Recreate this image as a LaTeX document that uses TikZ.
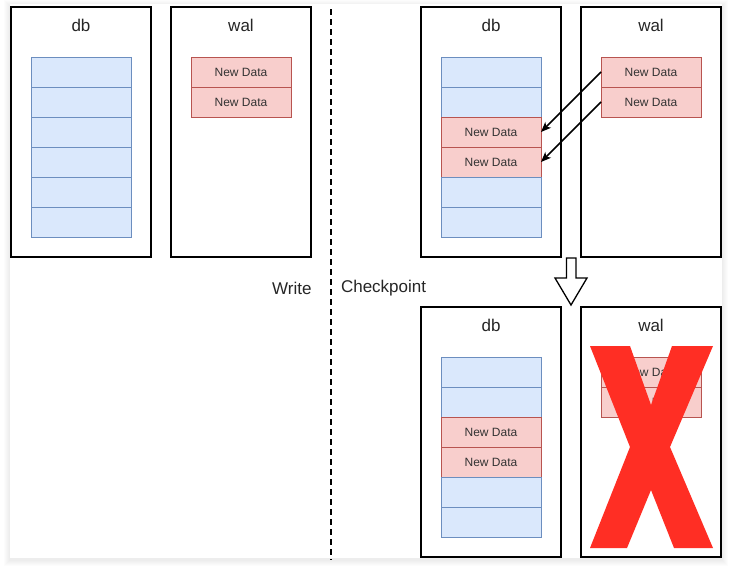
\documentclass[tikz,border=0pt]{standalone}
\usepackage{fontspec}
\setmainfont{Liberation Sans}
\usetikzlibrary{positioning}
\usetikzlibrary{arrows.meta}
\definecolor{dbfill}{HTML}{DAE8FC}
\definecolor{dbline}{HTML}{6C8EBF}
\definecolor{walfill}{HTML}{F8CECC}
\definecolor{walline}{HTML}{B85450}
\definecolor{crossred}{HTML}{FF2E24}
\tikzset{panel/.style = {draw=black, line width=1.1pt, fill=white,
                         minimum width=140pt, minimum height=250pt,
                         inner sep=0pt, outer sep=0pt},
         title/.style = {font=\fontsize{17}{20}\selectfont, text=black!85},
         cell/.style = {draw=dbline, fill=dbfill, line width=0.8pt,
                        minimum width=100pt, minimum height=30pt,
                        inner sep=0pt, outer sep=0pt,
                        font=\fontsize{12}{14}\selectfont, text=black!80},
         newdata/.style = {cell, draw=walline, fill=walfill},
         divider/.style = {line width=1.8pt, dash pattern=on 6pt off 4pt},
         copy/.style = {line width=1.5pt, -{Stealth[length=10pt, width=8pt, inset=2.5pt]}}}

\begin{document}
\begin{tikzpicture}[x=1pt, y=-1pt]
      \useasboundingbox (0,0) rectangle (731,568);
      % card with soft shadow
      \foreach \s in {6,5,...,1}
        \fill[black, opacity=0.012] (10-\s,4-\s+2) rectangle (722+\s,558+\s+2);
      \fill[white] (10,4) rectangle (722,558);

      % write: db and wal
      \node[panel] (wdb) at (81,132) {};
      \node[title] (wdbt) at (81,25) {db};
      \node[cell] (wdb1) at (81,72) {};
      \foreach \i [count=\j from 2] in {1,...,5}
        \node[cell, below=0pt of wdb\i] (wdb\j) {};
      \node[panel] (wwal) at (241,132) {};
      \node[title] (wwalt) at (241,25) {wal};
      \node[newdata] (wwal1) at (241,72) {New Data};
      \node[newdata, below=0pt of wwal1] (wwal2) {New Data};

      % divider
      \coordinate (dtop) at (331,9);
      \coordinate (dbot) at (331,560);
      \draw[divider] (dtop) -- (dbot);
      \node[title, anchor=east] (write) at (315,288) {Write};
      \node[title, anchor=west] (ckpt) at (337.5,288) {Checkpoint};

      % checkpoint: copy wal into db
      \node[panel] (cdb) at (491,132) {};
      \node[title] (cdbt) at (491,25) {db};
      \node[cell] (cdb1) at (491,72) {};
      \node[cell, below=0pt of cdb1] (cdb2) {};
      \node[newdata, below=0pt of cdb2] (cdb3) {New Data};
      \node[newdata, below=0pt of cdb3] (cdb4) {New Data};
      \node[cell, below=0pt of cdb4] (cdb5) {};
      \node[cell, below=0pt of cdb5] (cdb6) {};
      \node[panel] (cwal) at (651,132) {};
      \node[title] (cwalt) at (651,25) {wal};
      \node[newdata] (cwal1) at (651,72) {New Data};
      \node[newdata, below=0pt of cwal1] (cwal2) {New Data};
      \draw[copy] (cwal1.west) -- (cdb3.east);
      \draw[copy] (cwal2.west) -- (cdb4.east);

      % hollow arrow down
      \draw[line width=1.3pt, fill=white, line join=miter]
        (566.5,258) -- (576,258) -- (576,278) -- (587,278) -- (571,305)
        -- (555,278) -- (566.5,278) -- cycle;

      % after checkpoint
      \node[panel] (adb) at (491,432) {};
      \node[title] (adbt) at (491,325) {db};
      \node[cell] (adb1) at (491,372) {};
      \node[cell, below=0pt of adb1] (adb2) {};
      \node[newdata, below=0pt of adb2] (adb3) {New Data};
      \node[newdata, below=0pt of adb3] (adb4) {New Data};
      \node[cell, below=0pt of adb4] (adb5) {};
      \node[cell, below=0pt of adb5] (adb6) {};
      \node[panel] (awal) at (651,432) {};
      \node[title] (awalt) at (651,325) {wal};
      \node[newdata] (awal1) at (651,372) {New Data};
      \node[newdata, below=0pt of awal1] (awal2) {New Data};

      % cross over the wal
      \fill[crossred] (590,346) -- (630,346) -- (651,405) -- (672,346) -- (713,346)
        -- (670,447) -- (713,548) -- (674,548) -- (651,490) -- (627,548)
        -- (590,548) -- (630,447) -- cycle;
    \end{tikzpicture}
\end{document}
